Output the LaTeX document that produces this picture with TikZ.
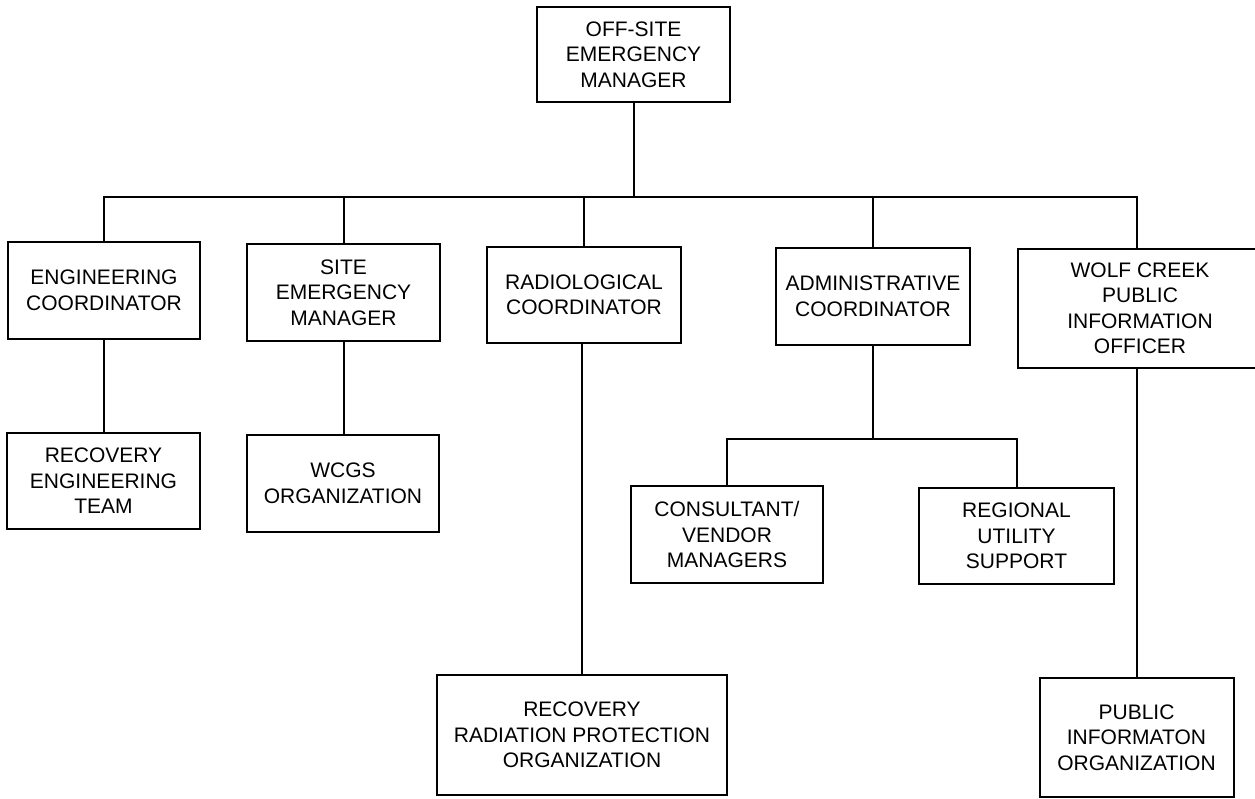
\documentclass[tikz,border=0pt]{standalone}
\usepackage{fontspec}
\setmainfont{Liberation Sans}
\begin{document}
\begin{tikzpicture}[x=1pt,y=-1pt,
  orgbox/.style={draw, line width=2pt, align=center, inner sep=0pt,
    font=\fontsize{21}{25.5}\selectfont},
  link/.style={line width=2pt}]
\clip (0,0) rectangle (1255,798);
\useasboundingbox (0,0) rectangle (1255,798);

% top level
\node[orgbox, minimum width=193pt, minimum height=95pt] (top) at (633.5,54.5)
  {OFF-SITE\\EMERGENCY\\MANAGER};

% second level
\node[orgbox, minimum width=192pt, minimum height=97pt] (eng) at (104,290.5)
  {ENGINEERING\\COORDINATOR};
\node[orgbox, minimum width=193pt, minimum height=97pt] (site) at (343.5,292.5)
  {SITE\\EMERGENCY\\MANAGER};
\node[orgbox, minimum width=194pt, minimum height=96pt] (rad) at (584,295)
  {RADIOLOGICAL\\COORDINATOR};
\node[orgbox, minimum width=194pt, minimum height=97pt] (adm) at (873,296.5)
  {ADMINISTRATIVE\\COORDINATOR};
\node[orgbox, minimum width=244pt, minimum height=119pt] (wolf) at (1140,308.5)
  {WOLF CREEK\\PUBLIC\\INFORMATION\\OFFICER};

% third level
\node[orgbox, minimum width=193pt, minimum height=96pt] (receng) at (103.5,481)
  {RECOVERY\\ENGINEERING\\TEAM};
\node[orgbox, minimum width=192pt, minimum height=97pt] (wcgs) at (343,483.5)
  {WCGS\\ORGANIZATION};
\node[orgbox, minimum width=192pt, minimum height=97pt] (cons) at (727,534.5)
  {CONSULTANT/\\VENDOR\\MANAGERS};
\node[orgbox, minimum width=195pt, minimum height=96pt] (reg) at (1016.5,536)
  {REGIONAL\\UTILITY\\SUPPORT};
\node[orgbox, minimum width=290pt, minimum height=120pt] (rrpo) at (582,735)
  {RECOVERY\\RADIATION PROTECTION\\ORGANIZATION};
\node[orgbox, minimum width=194pt, minimum height=119pt] (pio) at (1136.5,737.5)
  {PUBLIC\\INFORMATON\\ORGANIZATION};

% junctions
\coordinate (bus) at (633.5,197);
\coordinate (sub) at (873,439);

% connectors
\draw[link] (top.south) -- (bus);
\draw[link] (eng.north) -- (eng.north |- bus) -- (pio.north |- bus) -- (pio.north |- wolf.north);
\draw[link] (site.north) -- (site.north |- bus);
\draw[link] (rad.north) -- (rad.north |- bus);
\draw[link] (adm.north) -- (adm.north |- bus);

\draw[link] (eng.south) -- (eng.south |- receng.north);
\draw[link] (site.south) -- (site.south |- wcgs.north);
\draw[link] (rrpo.north |- rad.south) -- (rrpo.north);
\draw[link] (pio.north |- wolf.south) -- (pio.north);

\draw[link] (adm.south) -- (sub);
\draw[link] (cons.north) -- (cons.north |- sub) -- (reg.north |- sub) -- (reg.north);
\end{tikzpicture}
\end{document}
